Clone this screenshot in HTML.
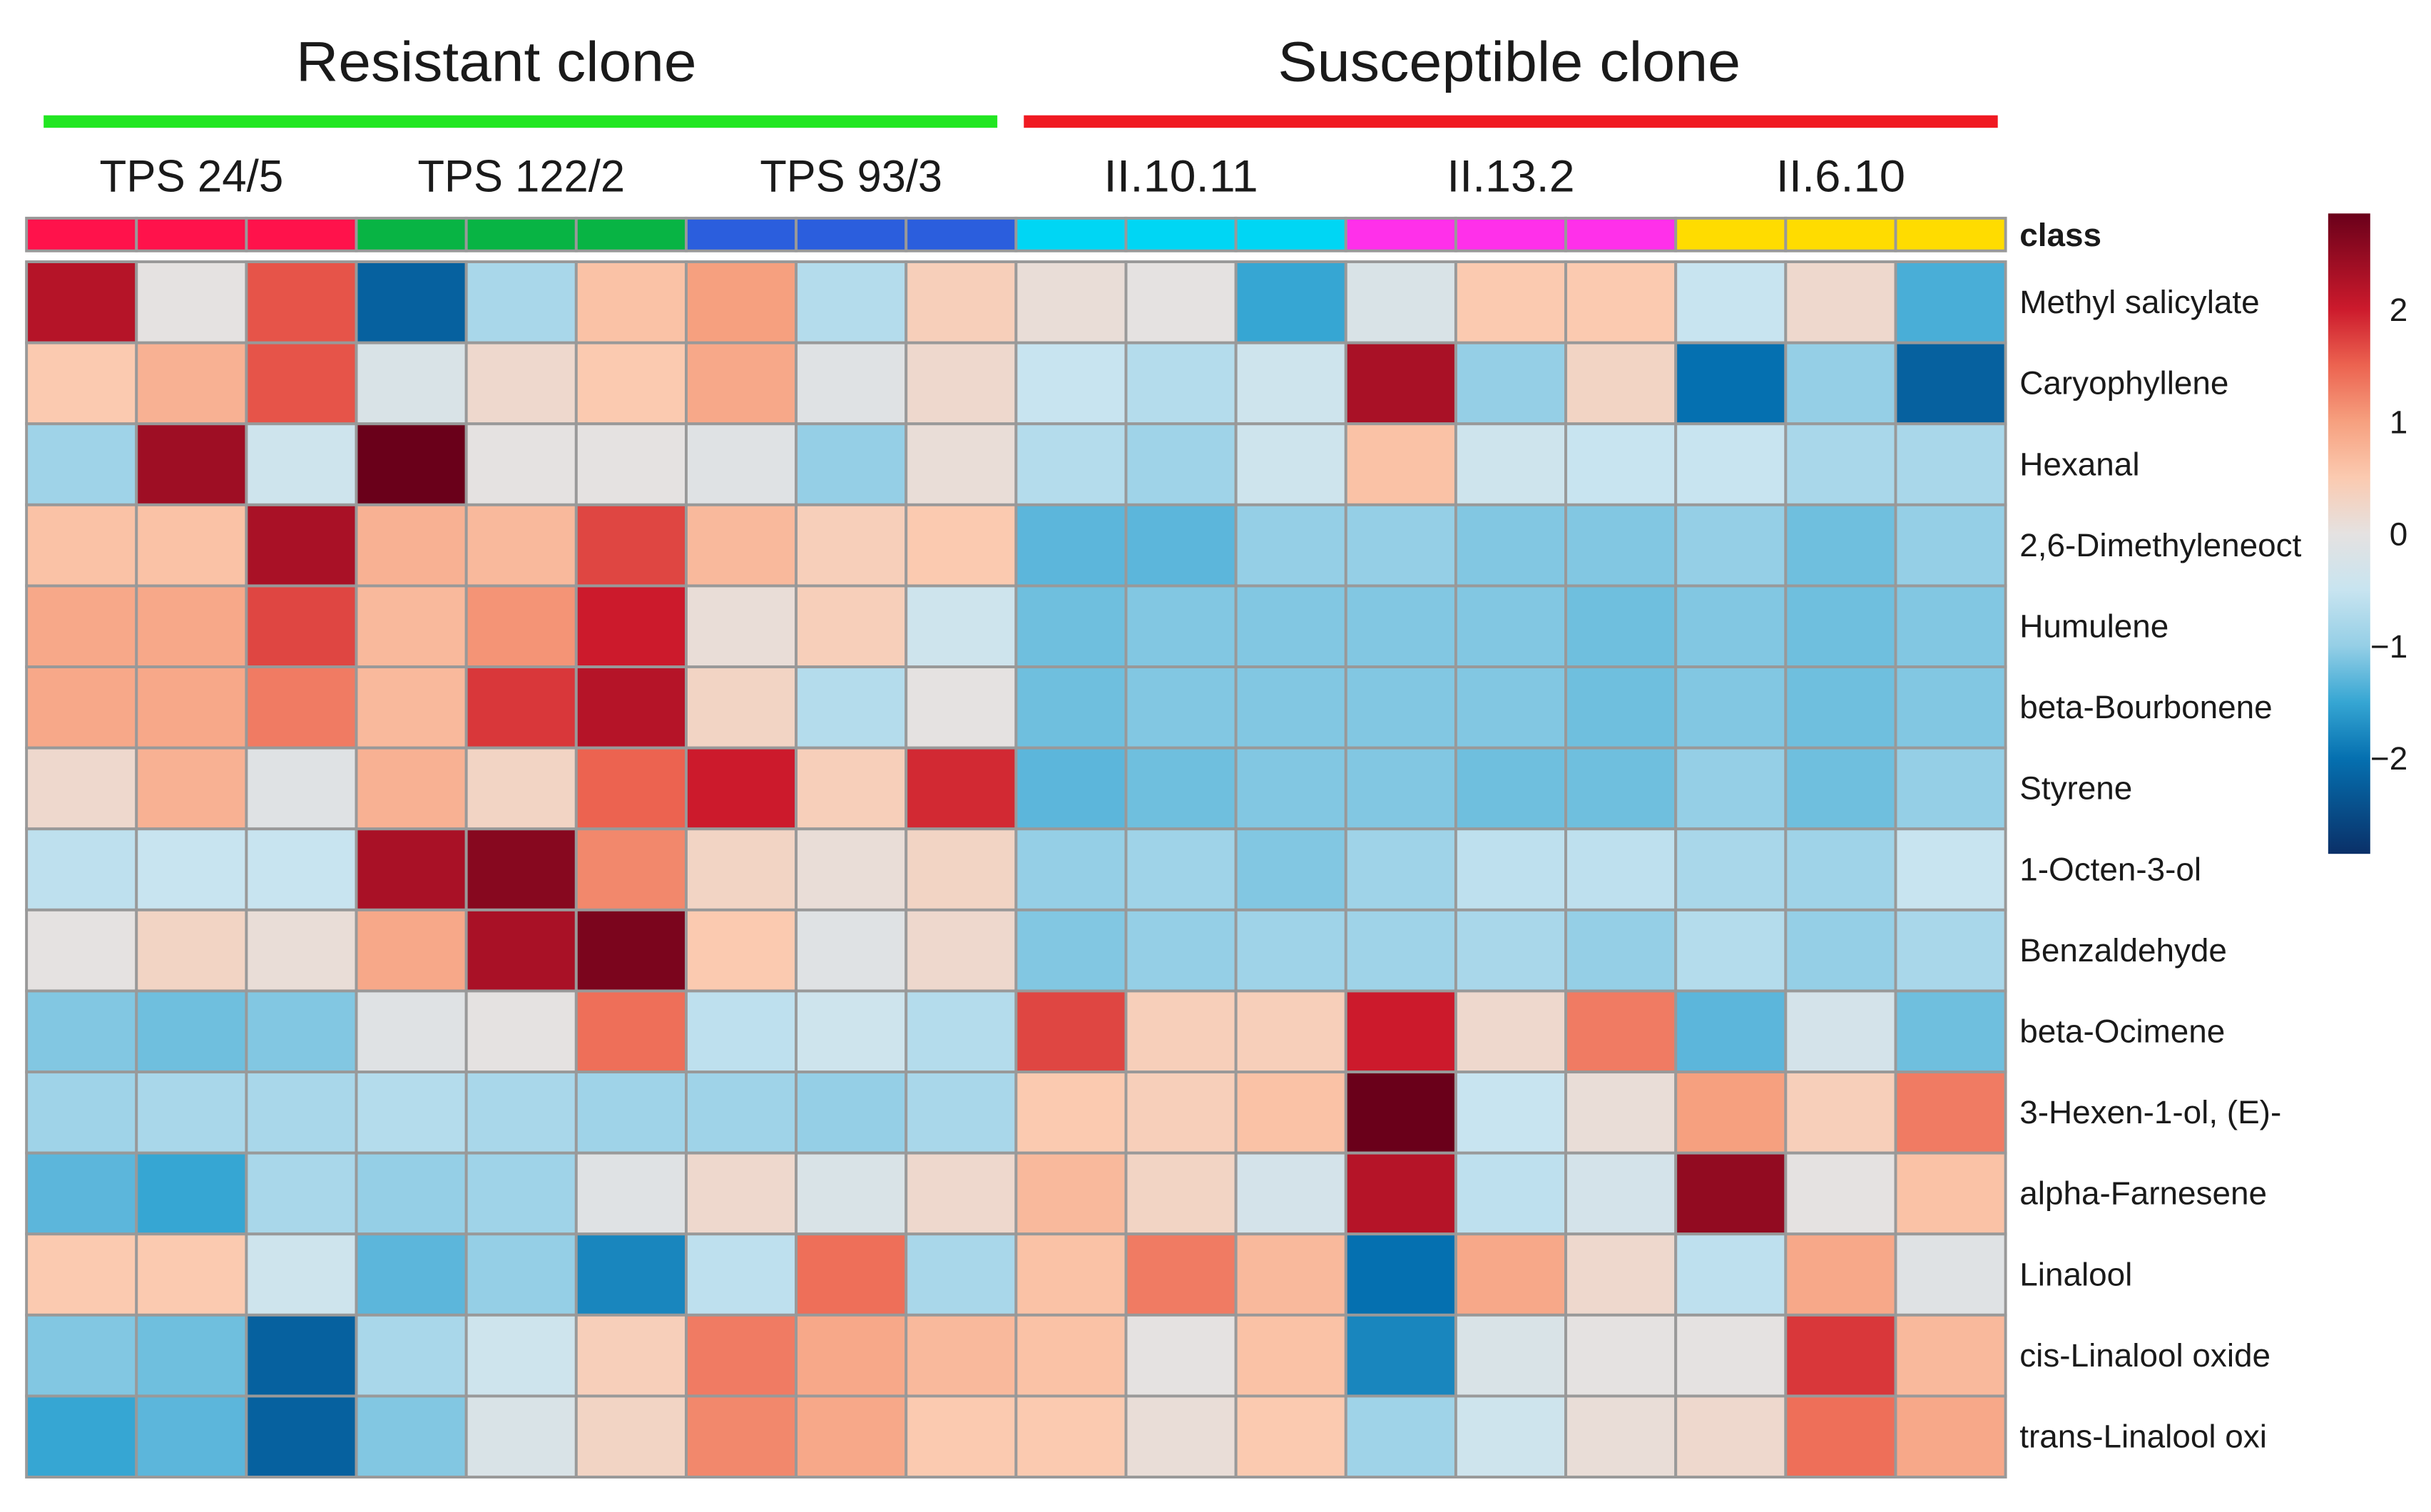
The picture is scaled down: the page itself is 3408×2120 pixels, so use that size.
<!DOCTYPE html>
<html><head><meta charset="utf-8"><style>
html,body{margin:0;padding:0;background:#fff;}
svg{display:block;}
text{font-family:"Liberation Sans",sans-serif;fill:#1a1a1a;}
</style></head><body>
<svg id="chart" width="3408" height="2120" viewBox="0 0 1560 970.4" xmlns="http://www.w3.org/2000/svg">
<defs>
<linearGradient id="cbgrad" x1="0" y1="1" x2="0" y2="0">
<stop offset="0" stop-color="#0a3068"/>
<stop offset="0.149" stop-color="#0570b0"/>
<stop offset="0.237" stop-color="#36a6d3"/>
<stop offset="0.325" stop-color="#95cfe6"/>
<stop offset="0.412" stop-color="#c8e4f0"/>
<stop offset="0.5" stop-color="#e5e2e1"/>
<stop offset="0.588" stop-color="#fbcab0"/>
<stop offset="0.675" stop-color="#f6a07f"/>
<stop offset="0.763" stop-color="#ec6350"/>
<stop offset="0.851" stop-color="#cc1a2c"/>
<stop offset="1" stop-color="#6a001a"/>
</linearGradient>
</defs>
<text x="190" y="52" font-size="36" textLength="257" lengthAdjust="spacingAndGlyphs">Resistant clone</text>
<text x="820" y="52" font-size="36" textLength="297" lengthAdjust="spacingAndGlyphs">Susceptible clone</text>
<rect x="28" y="74" width="612" height="8" fill="#22e622"/>
<rect x="657" y="74" width="625" height="8" fill="#f01a22"/>
<g id="groups"></g>
<g id="classbar"></g>
<g id="cells"></g>
<g id="rowlabels"></g>
<text x="1296" y="158" font-size="21" font-weight="bold">class</text>
<rect x="1494" y="137" width="27" height="411" fill="url(#cbgrad)"/>
<g id="cbticks"></g>
</svg>
<script>
const samples=["TPS24/5-1","TPS24/5-2","TPS24/5-3","TPS122/2-1","TPS122/2-2","TPS122/2-3","TPS93/3-1","TPS93/3-2","TPS93/3-3","II.10.11-1","II.10.11-2","II.10.11-3","II.13.2-1","II.13.2-2","II.13.2-3","II.6.10-1","II.6.10-2","II.6.10-3"];
const groupNames=["TPS 24/5","TPS 122/2","TPS 93/3","II.10.11","II.13.2","II.6.10"];
const groupColors=["#ff124b","#08b444","#2b5edd","#00d6f4","#ff30ea","#ffdc00"];
const compounds=["Methyl salicylate","Caryophyllene","Hexanal","2,6-Dimethyleneoct","Humulene","beta-Bourbonene","Styrene","1-Octen-3-ol","Benzaldehyde","beta-Ocimene","3-Hexen-1-ol, (E)-","alpha-Farnesene","Linalool","cis-Linalool oxide","trans-Linalool oxi"];
const v0=[2.2,0,1.6,-2.2,-0.8,0.6,1.0,-0.7,0.4,0.1,0,-1.5,-0.2,0.5,0.5,-0.5,0.2,-1.4];
const v1=[0.5,0.8,1.6,-0.2,0.2,0.5,0.9,-0.1,0.2,-0.5,-0.7,-0.4,2.3,-1.0,0.3,-2.0,-1.0,-2.2];
const v2=[-0.9,2.4,-0.4,2.9,0,0,-0.1,-1.0,0.1,-0.7,-0.9,-0.4,0.6,-0.4,-0.5,-0.5,-0.8,-0.8];
const v3=[0.6,0.6,2.3,0.8,0.7,1.7,0.7,0.4,0.5,-1.3,-1.3,-1.0,-1.0,-1.1,-1.1,-1.0,-1.2,-1.0];
const v4=[0.9,0.9,1.7,0.7,1.1,2.0,0.1,0.4,-0.4,-1.2,-1.1,-1.1,-1.1,-1.1,-1.2,-1.1,-1.2,-1.1];
const v5=[0.9,0.9,1.3,0.7,1.8,2.2,0.3,-0.7,0,-1.2,-1.1,-1.1,-1.1,-1.1,-1.2,-1.1,-1.2,-1.1];
const v6=[0.2,0.8,-0.1,0.8,0.3,1.5,2.0,0.4,1.9,-1.3,-1.2,-1.1,-1.1,-1.2,-1.2,-1.0,-1.2,-1.0];
const v7=[-0.6,-0.5,-0.5,2.3,2.6,1.2,0.3,0.1,0.3,-1.0,-0.9,-1.1,-0.9,-0.6,-0.6,-0.8,-0.9,-0.5];
const v8=[0,0.3,0.1,0.9,2.3,2.7,0.5,-0.1,0.2,-1.1,-1.0,-0.9,-0.9,-0.8,-1.0,-0.7,-1.0,-0.8];
const v9=[-1.1,-1.2,-1.1,-0.1,0,1.4,-0.6,-0.4,-0.7,1.7,0.4,0.4,2.0,0.2,1.3,-1.3,-0.3,-1.2];
const v10=[-0.9,-0.8,-0.8,-0.7,-0.8,-0.9,-0.9,-1.0,-0.8,0.5,0.4,0.6,2.9,-0.5,0.1,1.0,0.4,1.3];
const v11=[-1.3,-1.5,-0.8,-1.0,-0.9,-0.1,0.2,-0.2,0.2,0.7,0.3,-0.3,2.2,-0.6,-0.3,2.5,0,0.6];
const v12=[0.5,0.5,-0.4,-1.3,-1.0,-1.8,-0.6,1.4,-0.8,0.6,1.3,0.7,-2.0,0.9,0.2,-0.6,0.9,-0.1];
const v13=[-1.1,-1.2,-2.2,-0.8,-0.4,0.4,1.3,0.9,0.7,0.6,0,0.6,-1.8,-0.2,0,0,1.8,0.7];
const v14=[-1.5,-1.3,-2.2,-1.1,-0.2,0.3,1.2,0.9,0.5,0.5,0.1,0.5,-0.9,-0.4,0.1,0.2,1.4,0.9];
const values=[v0,v1,v2,v3,v4,v5,v6,v7,v8,v9,v10,v11,v12,v13,v14];
const cbTicks=[2,1,0,-1,-2];
const cbLabels=["2","1","0","\u22121","\u22122"];
const groupLabelWidths=[118,133,117,99,82,83];

const NS="http://www.w3.org/2000/svg";
const X0=17,X1=1287,Y0=168,Y1=948,CB0=140,CB1=161;
const cw=(X1-X0)/samples.length, rh=(Y1-Y0)/compounds.length;
const xPos=i=>X0+i*cw;
const yPos=j=>Y0+j*rh;
const cbY=v=>343-v*72;
const stops=[[-2.85,"#0a3068"],[-2,"#0570b0"],[-1.5,"#36a6d3"],[-1,"#95cfe6"],[-0.5,"#c8e4f0"],[0,"#e5e2e1"],[0.5,"#fbcab0"],[1,"#f6a07f"],[1.5,"#ec6350"],[2,"#cc1a2c"],[2.85,"#6a001a"]];
function hex(h){return [1,3,5].map(k=>parseInt(h.substr(k,2),16));}
function color(v){
  v=Math.max(-2.85,Math.min(2.85,v));
  for(let k=0;k<stops.length-1;k++){
    const a=stops[k],b=stops[k+1];
    if(v<=b[0]){const t=(v-a[0])/(b[0]-a[0]);const ca=hex(a[1]),cb=hex(b[1]);
      return "rgb("+ca.map((c,i)=>Math.round(c+(cb[i]-c)*t)).join(",")+")";}
  }
  return stops[stops.length-1][1];
}
function mk(tag,attrs,parent){const e=document.createElementNS(NS,tag);for(const k in attrs)e.setAttribute(k,attrs[k]);parent.appendChild(e);return e;}

const gG=document.getElementById("groups");
groupNames.forEach((g,i)=>{
  const t=mk("text",{x:xPos(i*3+1.5),y:123,"font-size":29,"text-anchor":"middle",textLength:groupLabelWidths[i],lengthAdjust:"spacingAndGlyphs"},gG);
  
  
  t.textContent=g;
});
const gC=document.getElementById("classbar");
samples.forEach((s,i)=>{
  const r=mk("rect",{x:xPos(i),y:CB0,width:cw,height:CB1-CB0,fill:groupColors[Math.floor(i/3)],stroke:"#999","stroke-width":1.8},gC);
  
  
});
const gH=document.getElementById("cells");
values.forEach((row,j)=>{
  row.forEach((v,i)=>{
    const r=mk("rect",{x:xPos(i),y:yPos(j),width:cw,height:rh,fill:color(v),stroke:"#999","stroke-width":1.8},gH);
    
    
  });
});
const gR=document.getElementById("rowlabels");
compounds.forEach((c,j)=>{
  const t=mk("text",{x:1296,y:yPos(j)+rh/2+7,"font-size":21},gR);
  
  
  t.textContent=c;
});
const gT=document.getElementById("cbticks");
cbTicks.forEach((v,k)=>{
  const t=mk("text",{x:1545,y:cbY(v)+7,"font-size":21,"text-anchor":"end"},gT);
  
  
  t.textContent=cbLabels[k];
});
</script>
</body></html>
